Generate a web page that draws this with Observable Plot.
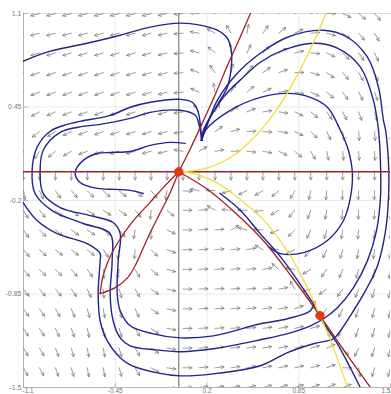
<!DOCTYPE html>
<html>
<head>
<meta charset="utf-8">
<script src="https://cdn.jsdelivr.net/npm/d3@7"></script>
<script src="https://cdn.jsdelivr.net/npm/@observablehq/plot@0.6"></script>
<style>
  html, body { margin: 0; padding: 0; background: #fff; }
  #chart svg { display: block; }
</style>
</head>
<body>
<div id="chart"></div>
<script>
// ---------- data ----------
const xDomain = [-1.1, 1.5];
const yDomain = [-1.5, 1.1];
const xTicks = [-1.1, -0.45, 0.2, 0.85, 1.5];
const yTicks = [1.1, 0.45, -0.2, -0.85, -1.5];
const xTickFirst = [-1.1];
const xTicksInner = [-0.45, 0.2, 0.85];
const xTickLast = [1.5];
const xGridLines = [-0.45, 0.2, 0.85];
const yGridLines = [0.45, -0.2, -0.85];

// vector-field sample positions
const gridX = [-1.1, -0.987, -0.874, -0.761, -0.648, -0.535, -0.422, -0.309, -0.196, -0.083, 0.030, 0.143,
               0.257, 0.370, 0.483, 0.596, 0.709, 0.822, 0.935, 1.048, 1.161, 1.274, 1.387, 1.5];
const gridY = [1.1, 0.963, 0.826, 0.689, 0.553, 0.416, 0.279, 0.142, 0.005, -0.132, -0.268, -0.405,
               -0.542, -0.679, -0.816, -0.953, -1.089, -1.226, -1.363, -1.5];

// arrow directions (degrees, counter-clockwise from +x), one row per gridY value
const fieldAngles = [
  [195,195,195,195,195,195,195,195,195,193,185,175,160,135,100,60,45,30,15,0,-25,-40,-50,-55],
  [195,195,195,195,195,195,195,195,195,193,185,170,150,120,80,55,40,25,5,-15,-35,-50,-60,-65],
  [197,197,197,197,197,197,197,197,196,194,185,165,140,95,65,45,30,12,-5,-25,-45,-55,-65,-70],
  [198,198,198,198,198,198,198,197,196,194,185,160,125,75,50,35,20,2,-15,-35,-50,-60,-68,-72],
  [200,200,200,200,200,199,199,198,197,195,185,155,100,60,40,25,8,-10,-25,-40,-55,-62,-70,-75],
  [210,208,203,201,200,200,200,199,198,196,188,125,60,38,22,8,-8,-25,-40,-55,-63,-70,-75,-78],
  [225,218,212,205,200,200,199,198,197,195,190,85,35,15,3,-3,-8,-25,-45,-65,-80,-85,-86,-87],
  [250,235,220,210,200,196,195,195,194,192,170,30,10,0,-5,-10,-25,-40,-60,-78,-84,-86,-87,-88],
  [-90,-90,-90,-90,-90,-90,-90,-90,-90,-90,-90,-90,-90,-90,-90,-90,-90,-90,-90,-90,-90,-90,-90,-90],
  [-80,-65,-55,-50,-45,-42,-40,-42,-50,-100,-5,170,175,195,205,210,220,240,258,265,268,268,268,268],
  [-60,-50,-42,-38,-35,-33,-35,-50,-95,-40,0,5,150,175,180,190,210,230,250,260,265,268,268,268],
  [-55,-45,-38,-35,-33,-35,-50,-100,-90,-25,0,5,5,30,165,175,200,225,245,255,262,265,267,268],
  [-50,-42,-38,-38,-40,-55,-100,-95,-45,-20,0,3,5,5,10,150,172,205,230,245,255,260,263,265],
  [-50,-45,-45,-50,-55,-85,-100,-60,-40,-15,0,3,4,5,5,10,140,170,210,235,248,255,260,262],
  [-52,-50,-50,-55,-65,-85,-75,-60,-35,-12,0,3,4,5,5,6,10,120,195,215,235,248,255,258],
  [-55,-55,-60,-68,-75,-80,-75,-65,-35,-12,0,3,4,5,6,7,8,20,60,230,245,252,256,259],
  [-58,-58,-65,-72,-78,-80,-75,-60,-35,-10,0,3,4,5,6,8,10,12,15,-70,240,250,255,258],
  [-60,-60,-68,-75,-80,-80,-75,-60,-33,-10,0,5,6,7,8,10,11,12,15,25,-50,245,252,256],
  [-62,-62,-70,-75,-80,-80,-75,-60,-30,-8,0,5,6,8,10,11,12,13,15,20,0,-80,255,255],
  [-65,-65,-72,-77,-80,-80,-75,-55,-25,-5,2,6,8,10,12,14,15,16,18,22,20,-10,-85,255]
];

// trajectories (blue), [x, y]
const trajTop = [[-1.103,0.768],[-0.911,0.838],[-0.649,0.893],[-0.415,0.949],[-0.202,1.005],[0.011,1.033],[0.152,1.019],[0.273,0.984],[0.344,0.928],[0.372,0.845],[0.372,0.727],[0.344,0.587],[0.280,0.476],[0.223,0.378],[0.181,0.288],[0.160,0.218]];
const trajInner = [[0.167,0.218],[0.145,0.322],[0.117,0.392],[0.011,0.427],[-0.202,0.413],[-0.344,0.371],[-0.557,0.329],[-0.677,0.315],[-0.840,0.274],[-0.961,0.148],[-0.982,-0.012],[-0.961,-0.151],[-0.840,-0.249],[-0.628,-0.305],[-0.465,-0.353],[-0.415,-0.430],[-0.429,-0.618],[-0.436,-0.848],[-0.415,-0.966],[-0.344,-1.071],[-0.181,-1.127],[0.011,-1.155],[0.245,-1.141],[0.578,-1.057],[0.770,-1.022],[0.933,-0.966],[0.961,-0.917]];
const trajOuter = [[0.160,0.218],[0.138,0.413],[0.096,0.483],[0.011,0.503],[-0.202,0.483],[-0.344,0.448],[-0.486,0.392],[-0.699,0.350],[-0.791,0.329],[-0.911,0.281],[-1.004,0.169],[-1.039,0.009],[-1.018,-0.151],[-0.897,-0.270],[-0.677,-0.360],[-0.486,-0.430],[-0.472,-0.618],[-0.486,-0.848],[-0.465,-1.036],[-0.415,-1.155],[-0.344,-1.210],[-0.167,-1.238],[0.011,-1.251],[0.245,-1.231],[0.578,-1.168],[0.791,-1.120],[0.933,-1.071],[1.025,-1.022],[1.124,-0.945],[1.238,-0.806],[1.337,-0.618],[1.401,-0.409],[1.429,-0.179],[1.429,0.058],[1.415,0.288],[1.379,0.496],[1.287,0.727],[1.124,0.859],[0.954,0.893],[0.741,0.845],[0.578,0.761],[0.457,0.657],[0.316,0.517],[0.174,0.288],[0.160,0.218]];
const trajLow = [[-1.103,-0.214],[-1.004,-0.339],[-0.862,-0.430],[-0.649,-0.500],[-0.557,-0.569],[-0.557,-0.618],[-0.571,-0.848],[-0.557,-1.036],[-0.507,-1.175],[-0.415,-1.293],[-0.344,-1.342],[-0.152,-1.398],[0.011,-1.419],[0.245,-1.405],[0.578,-1.349],[0.770,-1.258],[0.954,-1.196],[1.096,-1.161],[1.145,-1.106],[1.216,-1.001],[1.323,-0.827],[1.408,-0.653],[1.465,-0.409],[1.486,-0.179],[1.486,0.058],[1.465,0.288],[1.450,0.357],[1.415,0.587],[1.337,0.796],[1.195,0.935],[1.025,0.984],[0.770,0.935],[0.578,0.824],[0.415,0.685],[0.273,0.496],[0.188,0.288],[0.160,0.218]];
const trajU = [[0.046,0.197],[-0.060,0.204],[-0.202,0.183],[-0.344,0.141],[-0.486,0.134],[-0.578,0.127],[-0.677,0.079],[-0.734,-0.005],[-0.699,-0.075],[-0.578,-0.116],[-0.450,-0.123],[-0.344,-0.130],[-0.252,-0.151]];
const trajRight = [[0.160,0.218],[0.188,0.288],[0.365,0.427],[0.578,0.517],[0.770,0.545],[0.933,0.517],[1.053,0.448],[1.145,0.288],[1.202,0.148],[1.230,-0.012],[1.216,-0.179],[1.167,-0.339],[1.053,-0.478],[0.883,-0.562],[0.720,-0.569],[0.635,-0.520]];
const trajStable = [[0.290,-0.150],[0.436,-0.268],[0.578,-0.432],[0.720,-0.590],[0.862,-0.785],[0.975,-0.950]];
const trajDown = [[1.004,-1.022],[1.124,-1.196],[1.287,-1.502]];
const trajectories = [trajTop, trajInner, trajOuter, trajLow, trajU, trajRight, trajStable, trajDown];

// nullclines
const redAxis = [[-1.1,0],[1.5,0]];
const redUp = [[0,0],[0.082,0.160],[0.170,0.345],[0.260,0.540],[0.350,0.750],[0.430,0.925],[0.507,1.1]];
const redDown = [[0,0],[0.200,-0.120],[0.400,-0.285],[0.600,-0.480],[0.800,-0.730],[1,-1],[1.181,-1.258],[1.358,-1.5]];
const redLoopA = [[0,0],[-0.100,-0.100],[-0.210,-0.220],[-0.330,-0.350],[-0.430,-0.490],[-0.500,-0.620],[-0.540,-0.740],[-0.557,-0.848]];
const redLoopB = [[0,0],[-0.060,-0.144],[-0.131,-0.284],[-0.202,-0.423],[-0.265,-0.560],[-0.310,-0.655],[-0.365,-0.740],[-0.450,-0.806],[-0.557,-0.848]];
const redCurves = [redAxis, redUp, redDown, redLoopA, redLoopB];
const yellowUp = [[0,0],[0.100,0.006],[0.200,0.026],[0.300,0.064],[0.400,0.122],[0.500,0.205],[0.600,0.310],[0.700,0.440],[0.800,0.600],[0.900,0.785],[1.000,1.000],[1.043,1.1]];
const yellowDown = [[0,0],[0.100,-0.012],[0.200,-0.045],[0.300,-0.095],[0.400,-0.165],[0.500,-0.245],[0.600,-0.335],[0.700,-0.455],[0.800,-0.600],[0.900,-0.785],[1,-1],[1.100,-1.235],[1.195,-1.5]];
const yellowCurves = [yellowUp, yellowDown];

const equilibria = [[0,0],[1,-1]];

// ---------- build ----------
const field = fieldAngles.flatMap((row, i) => row.map((a, j) => ({x: gridX[j], y: gridY[i], a})));
const arrowShape = {
  draw(context, l) {
    const h = l * 0.32, w = l * 0.17;
    context.moveTo(0, 0);
    context.lineTo(0, -l);
    context.moveTo(-w, -l + h);
    context.lineTo(0, -l);
    context.lineTo(w, -l + h);
  }
};
const tickShape = {
  draw(context, l) { context.moveTo(0, 0); context.lineTo(0, -l); }
};
const px = d => d[0], py = d => d[1];
const fmt = d => String(d);

const lineMarks = (curves, opts) => curves.map(c => Plot.line(c, {x: px, y: py, clip: true, ...opts}));
const labelStyle = {fontSize: 6.5, fill: "#777", lineAnchor: "top", dy: 0.5};

const chart = Plot.plot({
  width: 391,
  height: 394,
  marginLeft: 23,
  marginRight: 1,
  marginTop: 13,
  marginBottom: 7,
  x: {domain: xDomain, axis: null},
  y: {domain: yDomain, axis: null},
  style: {background: "#fff", fontFamily: "'Liberation Sans', Arial, sans-serif", overflow: "hidden"},
  marks: [
    Plot.gridX(xGridLines, {stroke: "#e3e3e3", strokeOpacity: 1, strokeWidth: 0.8}),
    Plot.gridY(yGridLines, {stroke: "#e3e3e3", strokeOpacity: 1, strokeWidth: 0.8}),
    Plot.frame({anchor: "left", stroke: "#b5b5b5", strokeWidth: 1}),
    Plot.frame({anchor: "top", stroke: "#dcdcdc", strokeWidth: 1}),
    Plot.frame({anchor: "bottom", stroke: "#b5b5b5", strokeWidth: 1}),
    Plot.vector(yTicks, {x: () => xDomain[0], y: d => d, rotate: 90, length: 4, shape: tickShape, anchor: "start", stroke: "#aaa", strokeWidth: 0.8}),
    Plot.vector(xTicks, {x: d => d, y: () => yDomain[0], rotate: 0, length: 4, shape: tickShape, anchor: "start", stroke: "#aaa", strokeWidth: 0.8}),
    Plot.text(yTicks, {x: () => xDomain[0], y: d => d, text: fmt, textAnchor: "end", dx: -2, fontSize: 7, fill: "#777"}),
    Plot.text(xTickFirst, {x: d => d, y: () => yDomain[0], text: fmt, textAnchor: "start", dx: -1, ...labelStyle}),
    Plot.text(xTicksInner, {x: d => d, y: () => yDomain[0], text: fmt, textAnchor: "middle", ...labelStyle}),
    Plot.text(xTickLast, {x: d => d, y: () => yDomain[0], text: fmt, textAnchor: "end", ...labelStyle}),
    Plot.ruleX([0], {stroke: "#8a8a8a", strokeWidth: 1.3}),
    Plot.vector(field, {x: "x", y: "y", rotate: d => 90 - d.a, length: 9, anchor: "start",
      shape: arrowShape, stroke: "#7a7a7a", strokeWidth: 0.7, clip: true}),
    ...lineMarks(trajectories, {stroke: "#23238c", strokeWidth: 1.4, curve: "catmull-rom"}),
    ...lineMarks(redCurves, {stroke: "#9c2226", strokeWidth: 1.3, curve: "catmull-rom"}),
    ...lineMarks(yellowCurves, {stroke: "#f3dc3c", strokeWidth: 1.3, curve: "catmull-rom"}),
    Plot.dot(equilibria, {x: px, y: py, r: 4.3, fill: "#e8360f", stroke: "#c42a08", strokeWidth: 0.6})
  ]
});
document.getElementById("chart").appendChild(chart);
</script>
</body>
</html>
